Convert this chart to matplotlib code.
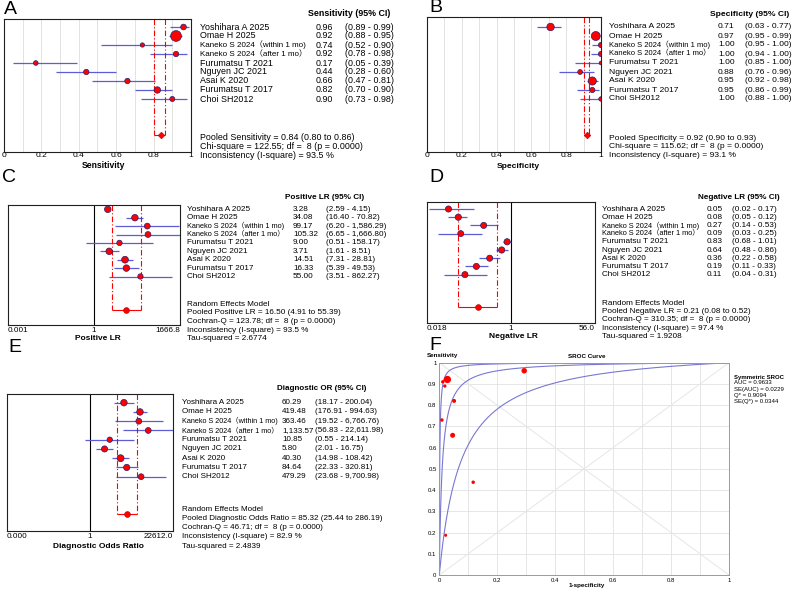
import numpy as np
import matplotlib
matplotlib.use("Agg")
import matplotlib.pyplot as plt

plt.rcParams['font.family'] = ['Liberation Sans', 'Noto Sans CJK SC', 'DejaVu Sans']

# ---------------- data ----------------
studies = ["Yoshihara A 2025", "Omae H 2025", "Kaneko S 2024（within 1 mo)",
           "Kaneko S 2024（after 1 mo）", "Furumatsu T 2021", "Nguyen JC 2021",
           "Asai K 2020", "Furumatsu T 2017", "Choi SH2012"]

sens = [0.96, 0.92, 0.74, 0.92, 0.17, 0.44, 0.66, 0.82, 0.90]
sens_lo = [0.89, 0.88, 0.52, 0.78, 0.05, 0.28, 0.47, 0.70, 0.73]
sens_hi = [0.99, 0.95, 0.90, 0.98, 0.39, 0.60, 0.81, 0.90, 0.98]
sens_w = [9.5, 33.8, 5.4, 8.5, 6.3, 8.5, 8.5, 12.2, 7.5]
sens_pool = (0.84, 0.80, 0.86)
sens_stats = ["Pooled Sensitivity = 0.84 (0.80 to 0.86)",
              "Chi-square = 122.55; df =  8 (p = 0.0000)",
              "Inconsistency (I-square) = 93.5 %"]

spec = [0.71, 0.97, 1.00, 1.00, 1.00, 0.88, 0.95, 0.95, 1.00]
spec_lo = [0.63, 0.95, 0.95, 0.94, 0.85, 0.76, 0.92, 0.86, 0.88]
spec_hi = [0.77, 0.99, 1.00, 1.00, 1.00, 0.96, 0.98, 0.99, 1.00]
spec_w = [16.4, 23.4, 8.0, 8.0, 4.0, 6.8, 19.4, 8.0, 5.9]
spec_pool = (0.92, 0.90, 0.93)
spec_stats = ["Pooled Specificity = 0.92 (0.90 to 0.93)",
              "Chi-square = 115.62; df =  8 (p = 0.0000)",
              "Inconsistency (I-square) = 93.1 %"]

plr = [3.28, 34.08, 99.17, 105.32, 9.00, 3.71, 14.51, 16.33, 55.00]
plr_lo = [2.59, 16.40, 6.20, 6.65, 0.51, 1.61, 7.31, 5.39, 3.51]
plr_hi = [4.15, 70.82, 1586.29, 1666.80, 158.17, 8.51, 28.81, 49.53, 862.27]
plr_w = [12.5, 12.5, 10, 10, 8.5, 12.5, 13.5, 12.5, 8.5]
plr_pool = (16.50, 4.91, 55.39)
plr_stats = ["Random Effects Model",
             "Pooled Positive LR = 16.50 (4.91 to 55.39)",
             "Cochran-Q = 123.78; df =  8 (p = 0.0000)",
             "Inconsistency (I-square) = 93.5 %",
             "Tau-squared = 2.6774"]

nlr = [0.05, 0.08, 0.27, 0.09, 0.83, 0.64, 0.36, 0.19, 0.11]
nlr_lo = [0.02, 0.05, 0.14, 0.03, 0.68, 0.48, 0.22, 0.11, 0.04]
nlr_hi = [0.17, 0.12, 0.53, 0.25, 1.01, 0.86, 0.58, 0.33, 0.31]
nlr_w = [11, 11.5, 11, 10.5, 11.5, 11.5, 11, 11, 11]
nlr_pool = (0.21, 0.08, 0.52)
nlr_stats = ["Random Effects Model",
             "Pooled Negative LR = 0.21 (0.08 to 0.52)",
             "Cochran-Q = 310.35; df =  8 (p = 0.0000)",
             "Inconsistency (I-square) = 97.4 %",
             "Tau-squared = 1.9208"]

dor = [60.29, 419.48, 363.46, 1133.57, 10.85, 5.80, 40.30, 84.64, 479.29]
dor_lo = [18.17, 176.91, 19.52, 56.83, 0.55, 2.01, 14.98, 22.33, 23.68]
dor_hi = [200.04, 994.63, 6766.76, 22611.98, 214.14, 16.75, 108.42, 320.81, 9700.98]
dor_w = [12.5, 12.5, 10, 10, 8.5, 11, 14, 11.5, 10]
dor_pool = (85.32, 25.44, 286.19)
dor_stats = ["Random Effects Model",
             "Pooled Diagnostic Odds Ratio = 85.32 (25.44 to 286.19)",
             "Cochran-Q = 46.71; df =  8 (p = 0.0000)",
             "Inconsistency (I-square) = 82.9 %",
             "Tau-squared = 2.4839"]

# SROC: study points (1-specificity, sensitivity) and curve parameters
sroc_fpr = [0.293, 0.028, 0.009, 0.012, 0.022, 0.117, 0.046, 0.051, 0.019]
sroc_tpr = [0.962, 0.921, 0.730, 0.910, 0.187, 0.437, 0.658, 0.820, 0.890]
sroc_w = [30, 53, 12, 12, 9, 12, 25, 16, 11]
q_star = 0.9094
dor_band = (14.3, 710.0)
sroc_text = ["AUC = 0.9633", "SE(AUC) = 0.0229", "Q* = 0.9094", "SE(Q*) = 0.0344"]

# ---------------- drawing ----------------
W, H = 794, 590
fig = plt.figure(figsize=(W / 100, H / 100), dpi=100)

ci_col = '#5c5cd6'
edge_col = '#22206e'


def rect(l, t, r, b):
    return [l / W, 1 - b / H, (r - l) / W, (b - t) / H]


def ftext(x, y, s, **kw):
    kw.setdefault('va', 'center')
    kw.setdefault('ha', 'left')
    fig.text(x / W, 1 - y / H, s, **kw)


def fmt(v):
    return f"{v:,.2f}"


def forest(box, row0, dy, est, lo, hi, w, pool, lim, ticks, ticklabels,
           log=False, pmark='D', fs=6.2, pad=0.5, aligns=None):
    l, t, r, b = box
    ax = fig.add_axes(rect(l, t, r, b))
    rows = np.arange(len(est))
    prow = 12
    if log:
        ax.set_xscale('log')
    ax.set_xlim(*lim)
    ytop = (t - row0) / dy
    ax.set_ylim((b - row0) / dy, ytop)
    if log:
        ax.axvline(1, color='black', lw=0.8, zorder=1)
    else:
        for g in np.arange(0.1, 0.95, 0.1):
            ax.axvline(g, color='#b0b0b0', lw=0.6, ls=(0, (1, 1.4)), zorder=0)
    ax.hlines(rows, lo, hi, color=ci_col, lw=0.9, zorder=2)
    ax.scatter(est, rows, s=(np.array(w) * 1.85 ** 2) * 0.72 ** 2, c='red',
               edgecolors=edge_col, linewidths=0.5, zorder=3)
    ax.vlines([pool[1], pool[2]], ytop, prow, colors='red', lw=0.8,
              linestyles=[(0, (5, 2, 1, 2))], zorder=2)
    ax.hlines(prow, pool[1], pool[2], color='red', lw=0.8, zorder=2)
    ax.plot(pool[0], prow, marker=pmark, ms=3.4 if pmark == 'D' else 4.2,
            color='red', mec='#b00000', mew=0.4, zorder=4)
    ax.set_yticks([])
    ax.set_xticks(ticks)
    ax.set_xticklabels(ticklabels)
    ax.minorticks_off()
    ax.tick_params(axis='x', length=0, pad=pad, labelsize=fs)
    if aligns:
        for lab, a in zip(ax.get_xticklabels(), aligns):
            lab.set_ha(a)
    for sp in ax.spines.values():
        sp.set_linewidth(0.8)
        sp.set_color('#202020')
    return ax


def forest_text(row0, dy, hdr, name_x, val_x, ci_x, est, lo, hi, stats, stats_y,
                fs=6.2):
    ftext(hdr[0], hdr[1], hdr[2], fontsize=fs, fontweight='bold')
    for i, nm in enumerate(studies):
        y = row0 + i * dy
        # the full-width brackets are wide; shrink those names a little
        ftext(name_x, y, nm, fontsize=fs * (0.9 if '（' in nm else 1.0))
        ftext(val_x, y, fmt(est[i]), fontsize=fs)
        ftext(ci_x, y, f"({fmt(lo[i])} - {fmt(hi[i])})", fontsize=fs)
    for s, y in zip(stats, stats_y):
        ftext(name_x, y, s, fontsize=fs)


# A - sensitivity
forest((4, 19, 191, 152), 27, 9, sens, sens_lo, sens_hi, sens_w, sens_pool,
       (0, 1), [0, 0.2, 0.4, 0.6, 0.8, 1], ['0', '0.2', '0.4', '0.6', '0.8', '1'],
       fs=6.0, pad=0.2)
forest_text(27, 9, (308, 14, "Sensitivity (95% CI)"), 200, 316, 345,
            sens, sens_lo, sens_hi, sens_stats, [138, 146.5, 155.5], fs=6.4)
ftext(103, 166, "Sensitivity", fontsize=6.2, fontweight='bold', ha='center')
ftext(4, 9, "A", fontsize=14)

# B - specificity
forest((427, 17, 601, 152), 27, 9, spec, spec_lo, spec_hi, spec_w, spec_pool,
       (0, 1), [0, 0.2, 0.4, 0.6, 0.8, 1], ['0', '0.2', '0.4', '0.6', '0.8', '1'],
       fs=6.0, pad=0.2)
forest_text(27, 9, (710, 14, "Specificity (95% CI)"), 609, 718, 745,
            spec, spec_lo, spec_hi, spec_stats, [138, 146.5, 155.5], fs=6.1)
ftext(518, 166, "Specificity", fontsize=6.1, fontweight='bold', ha='center')
ftext(429, 8, "B", fontsize=14)

# C - positive LR
forest((8, 205, 180, 325), 209.3, 8.4, plr, plr_lo, plr_hi, plr_w, plr_pool,
       (1 / 1666.8, 1666.8), [1 / 1666.8, 1, 1666.8], ['0.001', '1', '1666.8'],
       log=True, pmark='o', fs=5.9, pad=1.5, aligns=['left', 'center', 'right'])
forest_text(209.3, 8.4, (285, 197.3, "Positive LR (95% CI)"), 187, 293, 326,
            plr, plr_lo, plr_hi, plr_stats, [304.3, 312.7, 321.7, 330, 339], fs=5.9)
ftext(98, 339, "Positive LR", fontsize=6.0, fontweight='bold', ha='center')
ftext(2, 177, "C", fontsize=14)

# D - negative LR
forest((427, 202, 595, 323), 209, 8.2, nlr, nlr_lo, nlr_hi, nlr_w, nlr_pool,
       (1 / 56.0, 56.0), [1 / 56.0, 1, 56.0], ['0.018', '1', '56.0'],
       log=True, pmark='o', fs=5.9, pad=1.5, aligns=['left', 'center', 'right'])
forest_text(209, 8.2, (698, 197.3, "Negative LR (95% CI)"), 602, 707, 732,
            nlr, nlr_lo, nlr_hi, nlr_stats, [303.3, 311.7, 319.7, 328, 336.3], fs=5.9)
ftext(513, 337, "Negative LR", fontsize=6.0, fontweight='bold', ha='center')
ftext(429, 177, "D", fontsize=14)

# E - diagnostic OR
forest((7, 394, 173, 531), 402.7, 9.25, dor, dor_lo, dor_hi, dor_w, dor_pool,
       (1 / 22612.0, 22612.0), [1 / 22612.0, 1, 22612.0], ['0.000', '1', '22612.0'],
       log=True, pmark='o', fs=5.9, pad=1.5, aligns=['left', 'center', 'right'])
forest_text(402.7, 9.25, (277, 388.3, "Diagnostic OR (95% CI)"), 182, 282, 315,
            dor, dor_lo, dor_hi, dor_stats, [509.3, 518.3, 527.3, 536.7, 546], fs=5.8)
ftext(98, 547, "Diagnostic Odds Ratio", fontsize=6.0, fontweight='bold', ha='center')
ftext(8, 347, "E", fontsize=14)

# F - SROC curve
axf = fig.add_axes(rect(439.3, 362.7, 729, 575))
axf.set_xlim(0, 1)
axf.set_ylim(0, 1)
for g in np.arange(0.1, 0.95, 0.1):
    axf.axvline(g, color='#e2e2e2', lw=0.6, zorder=0)
    axf.axhline(g, color='#e2e2e2', lw=0.6, zorder=0)
axf.plot([0, 1], [0, 1], color='#e6e6e6', lw=0.7, zorder=0)
axf.plot([0, 1], [1, 0], color='#e6e6e6', lw=0.7, zorder=0)
fgrid = np.linspace(0, 1, 2000)
dor_q = (q_star / (1 - q_star)) ** 2
for d in (dor_band[0], dor_q, dor_band[1]):
    axf.plot(fgrid, d * fgrid / (1 - fgrid + d * fgrid), color='#7878d2', lw=0.8, zorder=2)
axf.scatter(sroc_fpr, sroc_tpr, s=(np.array(sroc_w) * 1.0) * 0.72 ** 2,
            color='red', linewidths=0, zorder=3)
axf.set_xticks([0, 0.2, 0.4, 0.6, 0.8, 1])
axf.set_xticklabels(['0', '0.2', '0.4', '0.6', '0.8', '1'])
axf.set_yticks(np.round(np.arange(0, 1.01, 0.1), 1))
axf.set_yticklabels(['0'] + [f"{v:.1f}" for v in np.arange(0.1, 0.95, 0.1)] + ['1'])
axf.tick_params(length=0, labelsize=4.3, pad=2)
for sp in axf.spines.values():
    sp.set_linewidth(0.7)
    sp.set_color('#9a9a9a')
ftext(587, 356, "SROC Curve", fontsize=4.5, fontweight='bold', ha='center')
ftext(427, 356, "Sensitivity", fontsize=4.5, fontweight='bold')
ftext(587, 585, "1-specificity", fontsize=4.5, fontweight='bold', ha='center')
ftext(734, 377, "Symmetric SROC", fontsize=4.3, fontweight='bold')
for i, s in enumerate(sroc_text):
    ftext(734, 383 + 6 * i, s, fontsize=4.3)
ftext(429, 345, "F", fontsize=14)

fig.savefig("out.png", dpi=100, facecolor='white')
